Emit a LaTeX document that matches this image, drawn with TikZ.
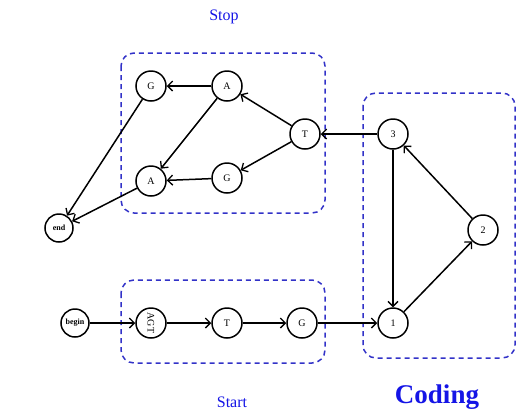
\documentclass[tikz,border=0pt]{standalone}
\usepackage{fontspec}
\setmainfont{Liberation Serif}
\usetikzlibrary{arrows.meta}
\definecolor{boxblue}{RGB}{50,50,200}
\definecolor{lblblue}{RGB}{20,20,230}
\begin{document}
\begin{tikzpicture}[x=1pt,y=-1pt,
  st/.style={circle,draw=black,line width=1.5pt,minimum size=30pt,inner sep=0pt,font=\fontsize{10}{11}\selectfont},
  sm/.style={st,minimum size=28pt,font=\bfseries\fontsize{8}{9}\selectfont},
  edge/.style={line width=1.5pt,-{Straight Barb[length=5pt,width=10pt,line width=1.3pt]}},
  grp/.style={draw=boxblue,line width=1.5pt,dash pattern=on 5pt off 4pt,rounded corners=13pt},
  lbl/.style={text=lblblue,font=\fontsize{16}{18}\selectfont}]
\useasboundingbox (0,0) rectangle (532,416);
% groups
\draw[grp] (121,53) rectangle (325,213);
\draw[grp] (121,280) rectangle (325,363);
\draw[grp] (363,93) rectangle (515,358);
\node[lbl] (stoplbl) at (224,17) {Stop};
\node[lbl] (startlbl) at (232,402) {Start};
\node[lbl,font=\bfseries\fontsize{27}{30}\selectfont] (codlbl) at (437,397) {Coding};
% nodes
\node[st] (g1) at (151,86) {G};
\node[st] (a1) at (227,86) {A};
\node[st] (t1) at (305,134) {T};
\node[st] (a2) at (151,181) {A};
\node[st] (g2) at (227,178) {G};
\node[sm] (end) at (59,228) {end};
\node[sm] (begin) at (75,323) {begin};
\node[st] (agt) at (151,323) {\rotatebox{-90}{AGT}};
\node[st] (t2) at (227,323) {T};
\node[st] (g3) at (302,323) {G};
\node[st] (n3) at (393,134) {3};
\node[st] (n2) at (483,230) {2};
\node[st] (n1) at (393,323) {1};
% edges
\draw[edge] (n3) -- (t1);
\draw[edge] (t1) -- (a1);
\draw[edge] (t1) -- (g2);
\draw[edge] (a1) -- (g1);
\draw[edge] (a1) -- (a2);
\draw[edge] (g2) -- (a2);
\draw[edge] (g1) -- (end);
\draw[edge] (a2) -- (end);
\draw[edge] (begin) -- (agt);
\draw[edge] (agt) -- (t2);
\draw[edge] (t2) -- (g3);
\draw[edge] (g3) -- (n1);
\draw[edge] (n3) -- (n1);
\draw[edge] (n1) -- (n2);
\draw[edge] (n2) -- (n3);
\end{tikzpicture}
\end{document}
